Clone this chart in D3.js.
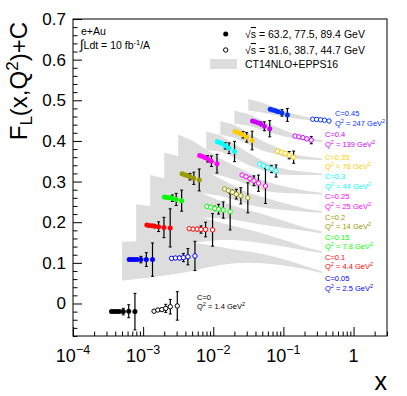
<!DOCTYPE html>
<html><head><meta charset="utf-8">
<script src="https://cdn.jsdelivr.net/npm/d3@7"></script>
<style>body{margin:0;background:#fff} svg{display:block;font-family:"Liberation Sans",Arial,Helvetica,sans-serif}</style>
</head><body><svg id="c" width="407" height="396"></svg>
<script>
// ---------- data ----------
const groupC = [0, 0.05, 0.1, 0.15, 0.2, 0.25, 0.3, 0.35, 0.4, 0.45];
const groupLabel = ["C=0","C=0.05","C=0.1","C=0.15","C=0.2","C=0.25","C=0.3","C=0.35","C=0.4","C=0.45"];
const groupQ2 = ["1.4","2.5","4.4","7.8","14","25","44","78","139","247"];
const groupColor = ["#000000","#0000ff","#ff0000","#00ff00","#999900","#ff00ff","#00ffff","#ffcc00","#cc00ff","#0033ff"];

// filled markers: sqrt(s) = 63.2, 77.5, 89.4 GeV
const fullX = [
  [3.54e-4,3.84e-4,4.20e-4,4.60e-4,5.21e-4,6.23e-4,7.64e-4],
  [6.32e-4,6.85e-4,7.49e-4,8.21e-4,9.29e-4,1.11e-3,1.36e-3],
  [1.13e-3,1.22e-3,1.34e-3,1.46e-3,1.66e-3,1.98e-3,2.43e-3],
  [2.01e-3,2.18e-3,2.39e-3,2.61e-3,2.96e-3,3.54e-3],
  [3.59e-3,3.89e-3,4.25e-3,4.66e-3,5.28e-3,6.31e-3],
  [6.40e-3,6.94e-3,7.59e-3,8.31e-3,9.41e-3,1.13e-2],
  [1.14e-2,1.24e-2,1.35e-2,1.48e-2,1.68e-2,2.01e-2],
  [2.04e-2,2.21e-2,2.42e-2,2.65e-2,3.00e-2,3.58e-2],
  [3.63e-2,3.94e-2,4.31e-2,4.72e-2,5.35e-2,6.39e-2],
  [6.48e-2,7.03e-2,7.69e-2,8.42e-2,9.54e-2,0.114]
];
const fullY = [
  [-0.020,-0.020,-0.020,-0.020,-0.020,-0.019,-0.020],
  [0.108,0.108,0.108,0.108,0.108,0.108,0.108],
  [0.193,0.192,0.191,0.190,0.189,0.187,0.186],
  [0.262,0.261,0.260,0.259,0.256,0.253],
  [0.319,0.317,0.315,0.312,0.308,0.304],
  [0.364,0.362,0.359,0.356,0.350,0.344],
  [0.398,0.396,0.393,0.388,0.382,0.374],
  [0.423,0.421,0.419,0.415,0.409,0.401],
  [0.449,0.447,0.445,0.442,0.436,0.430],
  [0.478,0.476,0.474,0.472,0.469,0.464]
];
const fullErr = [
  [0.002,0.002,0.003,0.004,0.008,0.016,0.045],
  [0.002,0.002,0.003,0.005,0.008,0.017,0.041],
  [0.002,0.003,0.004,0.006,0.012,0.025,0.047],
  [0.002,0.003,0.004,0.008,0.015,0.026],
  [0.002,0.003,0.005,0.008,0.015,0.027],
  [0.002,0.003,0.005,0.008,0.013,0.023],
  [0.002,0.003,0.005,0.008,0.013,0.025],
  [0.002,0.003,0.005,0.008,0.012,0.023],
  [0.002,0.003,0.004,0.007,0.011,0.020],
  [0.002,0.002,0.003,0.005,0.008,0.016]
];
// open markers: sqrt(s) = 31.6, 38.7, 44.7 GeV
const openX = [
  [1.43e-3,1.62e-3,1.85e-3,2.10e-3,2.44e-3,3.07e-3],
  [2.55e-3,2.89e-3,3.30e-3,3.75e-3,4.35e-3,5.48e-3],
  [4.55e-3,5.16e-3,5.89e-3,6.68e-3,7.77e-3,9.77e-3],
  [8.12e-3,9.20e-3,1.05e-2,1.19e-2,1.39e-2,1.74e-2],
  [1.45e-2,1.64e-2,1.87e-2,2.13e-2,2.47e-2,3.11e-2],
  [2.58e-2,2.93e-2,3.34e-2,3.80e-2,4.41e-2,5.55e-2],
  [4.61e-2,5.22e-2,5.96e-2,6.77e-2,7.87e-2],
  [8.22e-2,9.32e-2,0.106,0.121,0.140],
  [0.147,0.166,0.190,0.216,0.250],
  [0.262,0.297,0.339,0.385,0.447]
];
const openY = [
  [-0.019,-0.016,-0.015,-0.012,-0.008,-0.006],
  [0.111,0.112,0.112,0.113,0.115,0.117],
  [0.184,0.183,0.183,0.182,0.182,0.181],
  [0.239,0.237,0.234,0.232,0.230,0.226],
  [0.282,0.278,0.274,0.269,0.265,0.260],
  [0.316,0.312,0.307,0.302,0.296,0.289],
  [0.343,0.339,0.335,0.331,0.326],
  [0.375,0.372,0.369,0.365,0.360],
  [0.412,0.410,0.408,0.405,0.402],
  [0.4535,0.453,0.452,0.451,0.449]
];
const openErr = [
  [0.003,0.004,0.006,0.010,0.018,0.035],
  [0.003,0.004,0.006,0.010,0.020,0.036],
  [0.003,0.004,0.006,0.009,0.018,0.040],
  [0.003,0.004,0.007,0.012,0.020,0.045],
  [0.003,0.004,0.007,0.012,0.020,0.037],
  [0.003,0.004,0.007,0.012,0.020,0.043],
  [0.002,0.003,0.005,0.009,0.015],
  [0.002,0.003,0.005,0.009,0.015],
  [0.002,0.002,0.003,0.005,0.009],
  [0.002,0.002,0.002,0.003,0.004]
];

// CT14NLO+EPPS16 bands (groups 1..9) on an x grid
const gridX = [5.01e-4,7.94e-4,1.26e-3,2.00e-3,3.16e-3,5.01e-3,7.94e-3,1.26e-2,2.00e-2,3.16e-2,5.01e-2,7.94e-2,0.126,0.200,0.355];
const bandGroup = [1,2,3,4,5,6,7,8,9];
const bandStart = [0,1,2,3,4,6,7,8,9];
const bandLo = [
  [0.056,0.060,0.064,0.069,0.074,0.080,0.088,0.095,0.099,0.100,0.099,0.096,0.091,0.085,0.075],
  [0.140,0.142,0.143,0.145,0.148,0.153,0.156,0.156,0.153,0.148,0.143,0.137,0.131,0.124],
  [0.216,0.216,0.213,0.211,0.211,0.210,0.206,0.200,0.194,0.189,0.184,0.179,0.173],
  [0.281,0.279,0.274,0.270,0.265,0.255,0.243,0.236,0.232,0.229,0.226,0.223],
  [0.324,0.325,0.321,0.315,0.305,0.292,0.278,0.273,0.271,0.270,0.268],
  [0.377,0.374,0.358,0.341,0.328,0.318,0.316,0.316,0.316],
  [0.415,0.408,0.392,0.376,0.367,0.356,0.354,0.353],
  [0.442,0.438,0.426,0.416,0.408,0.402,0.397],
  [0.475,0.470,0.463,0.457,0.452,0.448]
];
const bandHi = [
  [0.152,0.153,0.154,0.154,0.153,0.150,0.145,0.139,0.133,0.128,0.122,0.114,0.104,0.093,0.079],
  [0.244,0.240,0.233,0.227,0.219,0.209,0.199,0.190,0.182,0.173,0.162,0.151,0.139,0.128],
  [0.316,0.308,0.297,0.283,0.267,0.252,0.240,0.230,0.220,0.209,0.198,0.187,0.177],
  [0.371,0.363,0.346,0.326,0.307,0.289,0.273,0.262,0.252,0.243,0.234,0.227],
  [0.416,0.401,0.379,0.357,0.339,0.322,0.304,0.293,0.285,0.278,0.272],
  [0.423,0.414,0.392,0.371,0.352,0.336,0.328,0.324,0.320],
  [0.449,0.440,0.420,0.400,0.385,0.368,0.362,0.357],
  [0.474,0.466,0.450,0.434,0.420,0.410,0.401],
  [0.503,0.494,0.481,0.469,0.460,0.452]
];

const xMajor = [1e-4,1e-3,1e-2,1e-1,1];
const xMajorExp = ["−4","−3","−2","−1",""];
const yMajor = [0,0.1,0.2,0.3,0.4,0.5,0.6,0.7];
const yMajorText = ["0","0.1","0.2","0.3","0.4","0.5","0.6","0.7"];

// ---------- drawing ----------
const svg = d3.select("#c");
const L=73, R=387, T=19, B=336;
const x = d3.scaleLog().domain([1e-4,3]).range([L,R]);
const y = d3.scaleLinear().domain([-0.08,0.7]).range([B,T]);
const bandColor = "#dddddd";

svg.append("rect").attr("width",407).attr("height",396).attr("fill","#fff");

// bands
const area = d3.area().x(d=>x(d.x)).y0(d=>y(d.lo)).y1(d=>y(d.hi));
bandLo.forEach((lo,i)=>{
  const hi = bandHi[i], s = bandStart[i];
  const pts = lo.map((v,j)=>({x:gridX[s+j], lo:v, hi:hi[j]}));
  svg.append("path").attr("d",area(pts)).attr("fill",bandColor);
});

// axes ticks (inward)
const xMinor = [];
for (let e=-4; e<=0; e++) for (let m=2; m<=9; m++){ const v=m*Math.pow(10,e); if (v<=3) xMinor.push(v); }
const yMinor = d3.range(-8,71,2).map(v=>v/100).filter(v=>Math.abs(v*10-Math.round(v*10))>1e-6);

function styleAxis(g){ g.select(".domain").remove(); g.selectAll("line").attr("stroke","#000").attr("stroke-width",1); g.selectAll("text").remove(); }
svg.append("g").attr("transform",`translate(0,${B})`).call(d3.axisBottom(x).tickValues(xMajor).tickSize(-9).tickFormat("")).call(styleAxis);
svg.append("g").attr("transform",`translate(0,${B})`).call(d3.axisBottom(x).tickValues(xMinor).tickSize(-4.5).tickFormat("")).call(styleAxis);
svg.append("g").attr("transform",`translate(${L},0)`).call(d3.axisLeft(y).tickValues(yMajor).tickSize(-9).tickFormat("")).call(styleAxis);
svg.append("g").attr("transform",`translate(${L},0)`).call(d3.axisLeft(y).tickValues(yMinor).tickSize(-4.5).tickFormat("")).call(styleAxis);

// frame
svg.append("rect").attr("x",L).attr("y",T).attr("width",R-L).attr("height",B-T)
  .attr("fill","none").attr("stroke","#000").attr("stroke-width",1);

// tick labels
xMajor.forEach((v,i)=>{
  const t = svg.append("text").attr("x",x(v)).attr("y",362).attr("text-anchor","middle")
    .attr("font-size",18).attr("fill","#000");
  if (xMajorExp[i]===""){ t.text("1"); }
  else { t.append("tspan").text("10"); t.append("tspan").attr("dy",-8).attr("font-size",12.5).text(xMajorExp[i]); }
});
yMajor.forEach((v,i)=>{
  svg.append("text").attr("x",66).attr("y",y(v)+6).attr("text-anchor","end")
    .attr("font-size",17).attr("fill","#000").text(yMajorText[i]);
});

// axis titles
svg.append("text").attr("x",387).attr("y",390).attr("text-anchor","end").attr("font-size",25).text("x");
const yt = svg.append("text").attr("transform","translate(27,22) rotate(-90)").attr("text-anchor","end").attr("font-size",24);
yt.append("tspan").text("F");
yt.append("tspan").attr("dy",5).attr("font-size",17).text("L");
yt.append("tspan").attr("dy",-5).text("(x,Q");
yt.append("tspan").attr("dy",-9).attr("font-size",17).text("2");
yt.append("tspan").attr("dy",9).text(")+C");

// error bars and markers
function drawSet(xs, ys, es, color, filled){
  const g = svg.append("g");
  xs.forEach((xv,j)=>{
    const cx = x(xv), y1 = y(ys[j]+es[j]), y2 = y(ys[j]-es[j]);
    g.append("line").attr("x1",cx).attr("x2",cx).attr("y1",y1).attr("y2",y2).attr("stroke","#000").attr("stroke-width",1.2);
    if (Math.abs(y2-y1) > 6){
      g.append("line").attr("x1",cx-1.5).attr("x2",cx+1.5).attr("y1",y1).attr("y2",y1).attr("stroke","#000").attr("stroke-width",1);
      g.append("line").attr("x1",cx-1.5).attr("x2",cx+1.5).attr("y1",y2).attr("y2",y2).attr("stroke","#000").attr("stroke-width",1);
    }
  });
  xs.forEach((xv,j)=>{
    const c = g.append("circle").attr("cx",x(xv)).attr("cy",y(ys[j]));
    if (filled) c.attr("r",2.5).attr("fill",color);
    else c.attr("r",2.2).attr("fill","#fff").attr("stroke",color).attr("stroke-width",1);
  });
}
groupC.forEach((c,i)=>{
  drawSet(fullX[i], fullY[i], fullErr[i], groupColor[i], true);
  drawSet(openX[i], openY[i], openErr[i], groupColor[i], false);
});

// group labels
const labelPos = [[197,297],[325,278.5],[325,257],[325,237],[325,217],[325,196.5],[325,176.5],[325,157],[325,134.5],[335,113.5]];
groupC.forEach((c,i)=>{
  const [lx,ly] = labelPos[i];
  const col = groupColor[i];
  svg.append("text").attr("x",lx).attr("y",ly+2.7).attr("font-size",7.5).attr("fill",col).text(groupLabel[i]);
  const t = svg.append("text").attr("x",lx).attr("y",ly+12.2).attr("font-size",7.5).attr("fill",col);
  t.append("tspan").text("Q");
  t.append("tspan").attr("dy",-3).attr("font-size",5.5).text("2");
  t.append("tspan").attr("dy",3).text(" = " + groupQ2[i] + " GeV");
  t.append("tspan").attr("dy",-3).attr("font-size",5.5).text("2");
});

// legend (left)
svg.append("text").attr("x",81).attr("y",35).attr("font-size",10.5).text("e+Au");
const lum = svg.append("text").attr("x",80).attr("y",49).attr("font-size",10.5);
lum.append("tspan").attr("font-size",13).text("∫");
lum.append("tspan").text("Ldt = 10 fb");
lum.append("tspan").attr("dy",-4).attr("font-size",7.5).text("-1");
lum.append("tspan").attr("dy",4).text("/A");

// legend (right)
svg.append("circle").attr("cx",225.7).attr("cy",34).attr("r",2.5).attr("fill","#000");
svg.append("circle").attr("cx",225.7).attr("cy",50).attr("r",2.2).attr("fill","#fff").attr("stroke","#000").attr("stroke-width",1);
svg.append("rect").attr("x",210).attr("y",59).attr("width",27).attr("height",10).attr("fill",bandColor);
function sqrtS(yb, txt){
  const t = svg.append("text").attr("x",245).attr("y",yb).attr("font-size",10.5);
  t.append("tspan").text("√");
  t.append("tspan").attr("text-decoration","overline").text("s");
  t.append("tspan").text(txt);
}
sqrtS(38, " = 63.2, 77.5, 89.4 GeV");
sqrtS(54, " = 31.6, 38.7, 44.7 GeV");
svg.append("text").attr("x",245).attr("y",68).attr("font-size",10.5).text("CT14NLO+EPPS16");
</script></body></html>
